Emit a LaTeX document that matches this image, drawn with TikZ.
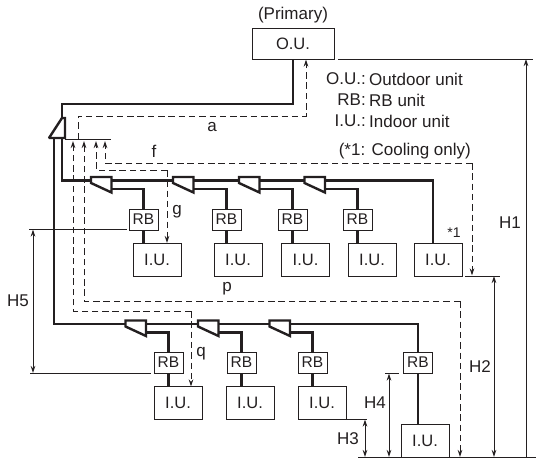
\documentclass[tikz,border=0pt]{standalone}
\usepackage{fontspec}
\setmainfont{Liberation Sans}
\usetikzlibrary{arrows.meta}
\definecolor{ink}{HTML}{231F20}
\tikzset{
  unitbox/.style={draw=ink,line width=1pt,fill=white,inner sep=0pt,outer sep=0pt,minimum width=48pt,minimum height=33pt,text=ink,font=\fontsize{16.5}{16.5}\selectfont},
  rbbox/.style={unitbox,minimum width=29pt,minimum height=21pt,font=\fontsize{15.5}{15.5}\selectfont},
  pipe/.style={draw=ink,line width=2.8pt,line join=miter,miter limit=2},
  jointline/.style={draw=ink,line width=2.4pt,line join=miter,miter limit=2},
  branchline/.style={draw=ink,line width=2.4pt},
  gas/.style={draw=ink,line width=1pt,dash pattern=on 6.5pt off 3.8pt},
  tip/.style={-{Stealth[length=7pt,width=4.5pt]}},
  dim/.style={draw=ink,line width=1pt,{Stealth[length=7pt,width=4.5pt]}-{Stealth[length=7pt,width=4.5pt]}},
  refline/.style={draw=ink,line width=1pt},
  lab/.style={inner sep=0pt,text=ink,font=\fontsize{17}{17}\selectfont},
}
% #1 name, #2 left x, #3 top y
\newcommand{\branchjoint}[3]{%
  \coordinate (#1-in) at (#2,#3+3.5);
  \coordinate (#1-out) at (#2+20.5,#3+3.5);
  \coordinate (#1-low) at (#2+20.5,#3+12);
  \draw[jointline,fill=white] (#2,#3) -- (#2+20.5,#3) -- (#2+20.5,#3+15.5) -- (#2,#3+6) -- cycle;
}
\begin{document}
\begin{tikzpicture}[x=1pt,y=-1pt]
\useasboundingbox (0,0) rectangle (536,458);
% units
\node[unitbox,minimum width=82pt,minimum height=31pt] (ou) at (293,43.5) {O.U.};
\node[rbbox] (rb1) at (143.5,219.5) {RB};
\node[rbbox] (rb2) at (226.5,219.5) {RB};
\node[rbbox] (rb3) at (292.5,219.5) {RB};
\node[rbbox] (rb4) at (357.5,219.5) {RB};
\node[unitbox] (iu1) at (157,259.5) {I.U.};
\node[unitbox] (iu2) at (238,259.5) {I.U.};
\node[unitbox] (iu3) at (305.5,259.5) {I.U.};
\node[unitbox] (iu4) at (372,259.5) {I.U.};
\node[unitbox] (iu5) at (438,259.5) {I.U.};
\node[rbbox] (rb5) at (168.5,362.5) {RB};
\node[rbbox] (rb6) at (241.5,362.5) {RB};
\node[rbbox] (rb7) at (312.5,362.5) {RB};
\node[rbbox] (rb8) at (418,362.5) {RB};
\node[unitbox] (iu6) at (178,403) {I.U.};
\node[unitbox] (iu7) at (250,403) {I.U.};
\node[unitbox] (iu8) at (322,403) {I.U.};
\node[unitbox] (iu9) at (425,441) {I.U.};
% main branch
\coordinate (mtl) at (62,118);
\coordinate (mbl) at (49,138);
\coordinate (mbr) at (65,138);
\coordinate (mtr) at (65,118);
\coordinate (mleft) at (54,138);
\coordinate (mright) at (62,138);
\draw[pipe] (ou.south) -- (293,104) -- (62,104) -- (mtl);
\draw[pipe] (mright) |- (91,180.5);
\draw[pipe] (mleft) |- (126,324);
\branchjoint{a1}{91}{177}
\branchjoint{a2}{173}{177}
\branchjoint{a3}{239}{177}
\branchjoint{a4}{304.5}{177}
\branchjoint{b1}{125.5}{320.5}
\branchjoint{b2}{198}{320.5}
\branchjoint{b3}{269.5}{320.5}
\draw[jointline,fill=white] (mtl) -- (mtr) -- (mbr) -- (mbl) -- cycle;
\draw[pipe] (a1-out) -- (a2-in) (a2-out) -- (a3-in) (a3-out) -- (a4-in);
\draw[pipe] (a4-out) -| (iu5.north -| 433,0);
\draw[pipe] (b1-out) -- (b2-in) (b2-out) -- (b3-in);
\draw[pipe] (b3-out) -| (rb8.north);
\draw[pipe] (rb8.south) -- (rb8.south |- iu9.north);
% branches to RB
\draw[branchline] (a1-low) -| (rb1.north);
\draw[branchline] (a2-low) -| (rb2.north);
\draw[branchline] (a3-low) -| (rb3.north);
\draw[branchline] (a4-low) -| (rb4.north);
\draw[branchline] (b1-low) -| (rb5.north);
\draw[branchline] (b2-low) -| (rb6.north);
\draw[branchline] (b3-low) -| (rb7.north);
\foreach \r/\u in {rb1/iu1,rb2/iu2,rb3/iu3,rb4/iu4,rb5/iu6,rb6/iu7,rb7/iu8}
  \draw[branchline] (\r.south) -- (\r.south |- \u.north);
% reference line below main branch
\coordinate (refa) at (65,139.5);
\coordinate (refb) at (111,139.5);
\draw[refline] (refa) -- (refb);
% dashed lengths
\draw[gas,tip] (78,139) -- (78,116) -- (306,116) -- (306,59.5);
\draw[gas,tip] (472,163) -- (105,163) -- (105,141);
\draw[gas,tip] (472,163) -- (472,275.5);
\draw[gas,tip] (167,170) -- (96,170) -- (96,141);
\draw[gas,tip] (167,170) -- (167,243);
\draw[gas,tip] (460,301) -- (84,301) -- (84,141);
\draw[gas,tip] (460,301) -- (460,457);
\draw[gas,tip] (191,311) -- (73,311) -- (73,141);
\draw[gas,tip] (191,311) -- (191,386.5);
% dimensions
\coordinate (h1t) at (526,59);
\coordinate (h1b) at (526,457);
\draw[refline] (338,59) -- (533,59);
\draw[refline] (358,457.5) -- (401,457.5) (449,457.5) -- (536,457.5);
\draw[draw=ink,line width=1pt,-{Stealth[length=7pt,width=4.5pt]}] (h1b) -- (h1t);
\draw[dim] (494,276) -- (494,457);
\draw[refline] (465,276) -- (500,276);
\draw[dim] (365,419.5) -- (365,457);
\draw[refline] (347,419) -- (367,419);
\draw[dim] (389,373.5) -- (389,457);
\draw[refline] (385,373) -- (399,373);
\draw[dim] (33,229.5) -- (33,373);
\draw[refline] (29,229.5) -- (127,229.5);
\draw[refline] (30,373.5) -- (151,373.5);
% labels
\node[lab] (prim) at (293,15) {(Primary)};
\node[lab,anchor=east] (l1a) at (366,79) {O.U.:};
\node[lab,anchor=west] (l1b) at (369,79) {Outdoor unit};
\node[lab,anchor=east] (l2a) at (366,100) {RB:};
\node[lab,anchor=west] (l2b) at (369,100) {RB unit};
\node[lab,anchor=east] (l3a) at (366,121) {I.U.:};
\node[lab,anchor=west] (l3b) at (369,121) {Indoor unit};
\node[lab,anchor=east] (l4) at (471,151) {(*1: Cooling only)};
\node[lab] (la) at (212,127) {a};
\node[lab] (lf) at (154,151) {f};
\node[lab] (lg) at (177,212) {g};
\node[lab] (lp) at (227,289) {p};
\node[lab] (lq) at (201,354) {q};
\node[lab,font=\fontsize{14}{14}\selectfont] (ls) at (454,233) {*1};
\node[lab] (h1) at (510,223) {H1};
\node[lab] (h2) at (480,367) {H2};
\node[lab] (h3) at (348,439) {H3};
\node[lab] (h4) at (375,403) {H4};
\node[lab] (h5) at (18,301) {H5};
\end{tikzpicture}
\end{document}
